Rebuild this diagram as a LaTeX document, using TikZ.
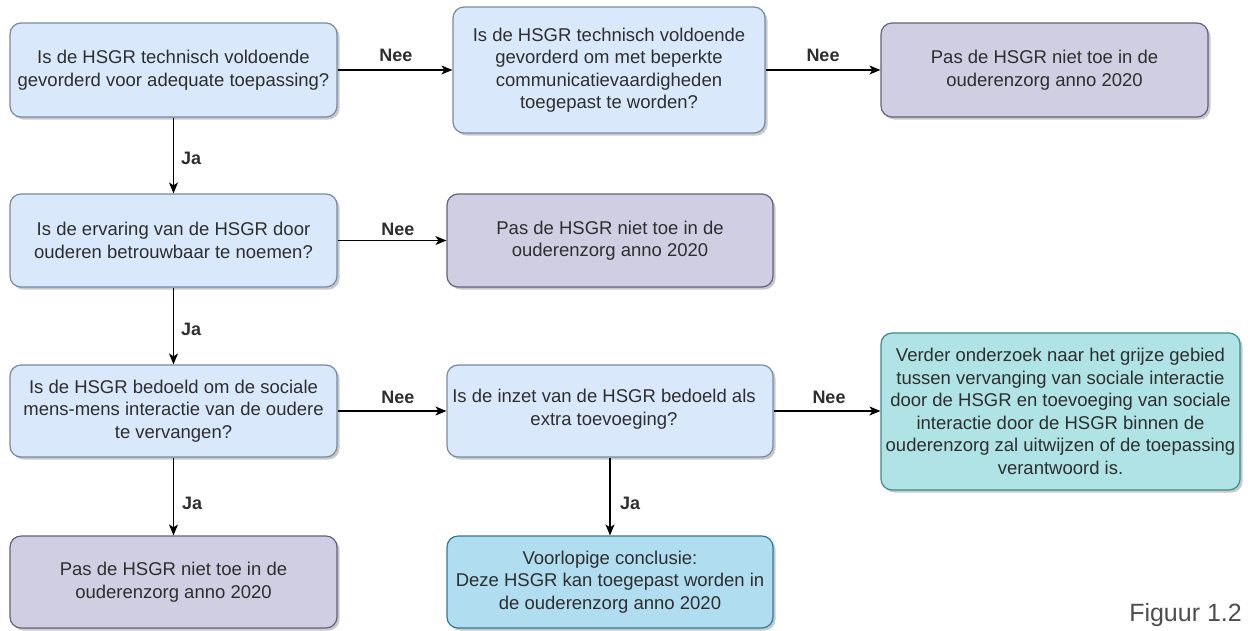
\documentclass[tikz,border=0pt]{standalone}
\usepackage{fontspec}
\setmainfont{Liberation Sans}
\usetikzlibrary{arrows.meta,shadows}

\definecolor{txt}{HTML}{2E2E2E}
\definecolor{qfill}{HTML}{DAE8FC}
\definecolor{qline}{HTML}{7689A8}
\definecolor{nofill}{HTML}{D0CEE2}
\definecolor{noline}{HTML}{64607E}
\definecolor{tealfill}{HTML}{B0E3E6}
\definecolor{tealline}{HTML}{3E8A8C}
\definecolor{okfill}{HTML}{B1DDF0}
\definecolor{okline}{HTML}{2F7A9A}

\begin{document}
\begin{tikzpicture}[x=1pt,y=-1pt,
  box/.style={rectangle, rounded corners=11pt, draw, line width=1.2pt,
    inner sep=0pt, align=center, text=txt,
    font=\fontsize{18.5}{22.5}\selectfont,
    drop shadow={shadow xshift=2.5pt, shadow yshift=-2.5pt, opacity=0.3, fill=black!70}},
  question/.style={box, fill=qfill, draw=qline},
  reject/.style={box, fill=nofill, draw=noline},
  further/.style={box, fill=tealfill, draw=tealline},
  accept/.style={box, fill=okfill, draw=okline},
  flow/.style={draw=black, line width=1.3pt, -{Stealth[length=11pt,width=9pt,inset=3pt]}},
  lbl/.style={font=\fontsize{18}{20}\selectfont\bfseries, text=txt, inner sep=0pt}
]
\useasboundingbox (0,0) rectangle (1252,630);

% first row
\node[question, minimum width=327pt, minimum height=94pt] (A) at (173.5,70)
  {Is de HSGR technisch voldoende\\gevorderd voor adequate toepassing?};
\node[question, minimum width=312pt, minimum height=126pt] (B) at (609,70)
  {Is de HSGR technisch voldoende\\gevorderd om met beperkte\\communicatievaardigheden\\toegepast te worden?};
\node[reject, minimum width=327pt, minimum height=94pt] (C) at (1044.5,70)
  {Pas de HSGR niet toe in de\\ouderenzorg anno 2020};

% second row
\node[question, minimum width=327pt, minimum height=93pt] (D) at (173.5,240.5)
  {Is de ervaring van de HSGR door\\ouderen betrouwbaar te noemen?};
\node[reject, minimum width=326pt, minimum height=93pt] (E) at (610,240.5)
  {Pas de HSGR niet toe in de\\ouderenzorg anno 2020};

% third row
\node[question, minimum width=327pt, minimum height=92pt] (F) at (173.5,411)
  {Is de HSGR bedoeld om de sociale\\mens-mens interactie van de oudere\\te vervangen?};
\node[question, minimum width=326pt, minimum height=92pt] (G) at (610,411) {};
\node[text=txt, align=center, inner sep=0pt, font=\fontsize{18.5}{22.5}\selectfont] (Gt) at (604,409)
  {Is de inzet van de HSGR bedoeld als\\extra toevoeging?};
\node[further, minimum width=359pt, minimum height=157pt] (H) at (1060.5,411.5)
  {Verder onderzoek naar het grijze gebied\\tussen vervanging van sociale interactie\\door de HSGR en toevoeging van sociale\\interactie door de HSGR binnen de\\ouderenzorg zal uitwijzen of de toepassing\\verantwoord is.};

% fourth row
\node[reject, minimum width=327pt, minimum height=92pt] (I) at (173.5,582)
  {Pas de HSGR niet toe in de\\ouderenzorg anno 2020};
\node[accept, minimum width=326pt, minimum height=92pt] (J) at (610,582)
  {Voorlopige conclusie:\\Deze HSGR kan toegepast worden in\\de ouderenzorg anno 2020};

% connectors
\draw[flow] (A) -- (B);
\draw[flow] (B) -- (C);
\draw[flow] (D) -- (E);
\draw[flow] (F) -- (G);
\draw[flow] (G) -- (H.west |- G.east);
\draw[flow] (A) -- (D);
\draw[flow] (D) -- (F);
\draw[flow] (F) -- (I);
\draw[flow] (G) -- (J);

% connector labels
\node[lbl] (n1) at (396,55) {Nee};
\node[lbl] (n2) at (823,55) {Nee};
\node[lbl] (n3) at (398,229) {Nee};
\node[lbl] (n4) at (398,397) {Nee};
\node[lbl] (n5) at (829,397) {Nee};
\node[lbl, anchor=west] (j1) at (181,158) {Ja};
\node[lbl, anchor=west] (j2) at (181,329) {Ja};
\node[lbl, anchor=west] (j3) at (182,503) {Ja};
\node[lbl, anchor=west] (j4) at (620,503) {Ja};

% caption
\node[text=txt!85, font=\fontsize{25}{28}\selectfont, anchor=east, inner sep=0pt] (fig) at (1242,615) {Figuur 1.2};
\end{tikzpicture}
\end{document}
